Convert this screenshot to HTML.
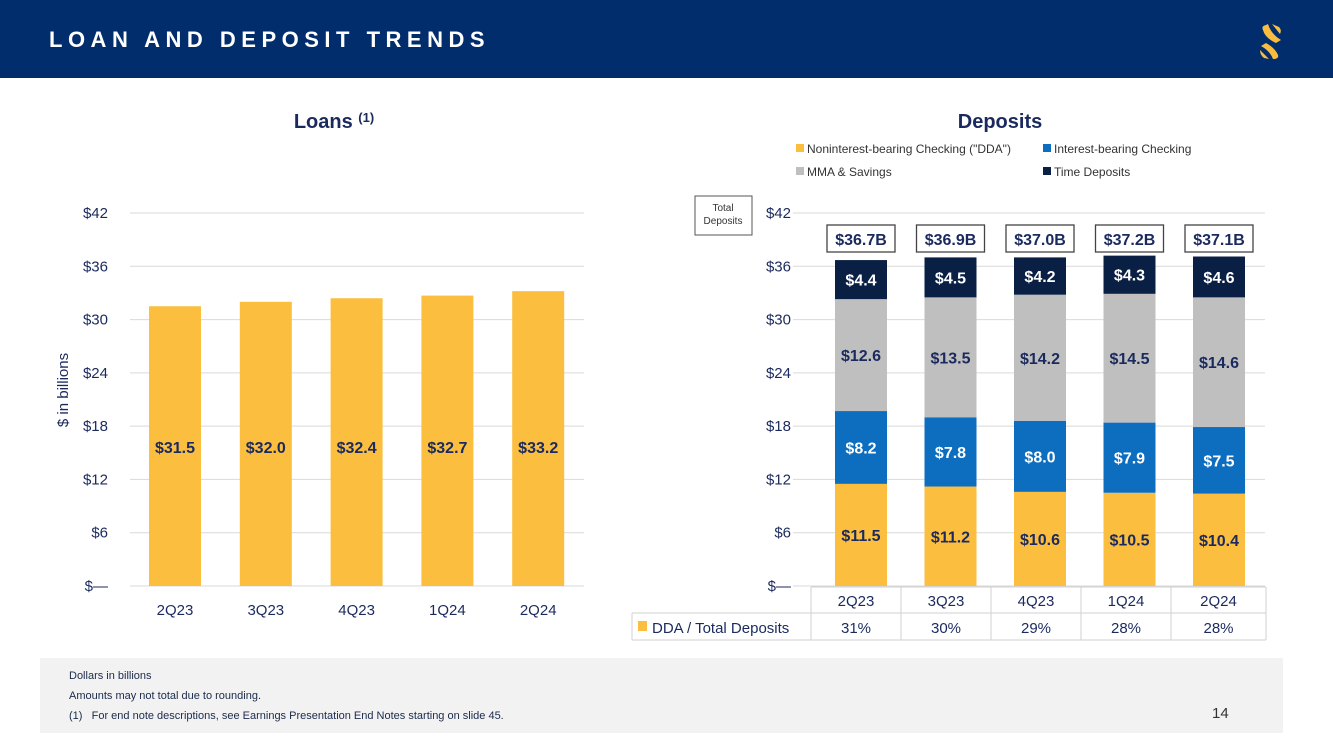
<!DOCTYPE html>
<html><head><meta charset="utf-8"><style>
body{margin:0;width:1333px;height:749px;background:#fff;font-family:"Liberation Sans",sans-serif;position:relative;overflow:hidden}
.hdr{position:absolute;left:0;top:0;width:1333px;height:78px;background:#022d6d}
.ttl{position:absolute;left:49px;top:27px;color:#fff;font-weight:bold;font-size:22px;letter-spacing:5.5px}
.foot{position:absolute;left:40px;top:658px;width:1243px;height:75px;background:#f2f2f2;font-size:11px;color:#1b2a4a}
.foot div{position:absolute;left:29px}
</style></head><body>
<div class="hdr">
<div class="ttl">LOAN AND DEPOSIT TRENDS</div>
<svg style="position:absolute;left:1255px;top:22px" width="34" height="40">
<path d="M8 8 Q6 4 11 3 L13 2 Q16 12 26 18 L21 21 Q10 16 8 8 Z" fill="#f9bc3e"/>
<path d="M17 2 L24 5 Q27 8 25 12 Z" fill="#f9bc3e"/>
<path d="M6 24 L11 21 Q20 26 23 33 Q24 36 20 37 L18 37 Q15 29 6 24 Z" fill="#f9bc3e"/>
<path d="M5 28 L14 37 L9 36 Q5 33 5 28 Z" fill="#f9bc3e"/></svg>
</div>
<svg id="c" width="1333" height="749" style="position:absolute;left:0;top:0"></svg>
<div class="foot">
<div style="top:12px">Dollars in billions</div>
<div style="top:32px">Amounts may not total due to rounding.</div>
<div style="top:52px">(1)&nbsp;&nbsp;&nbsp;For end note descriptions, see Earnings Presentation End Notes starting on slide 45.</div>
<div style="left:1172px;top:47px;font-size:15px;color:#333">14</div>
</div>
<script>
const categories=["2Q23","3Q23","4Q23","1Q24","2Q24"];
const loans=[31.5,32.0,32.4,32.7,33.2];
const dda=[11.5,11.2,10.6,10.5,10.4];
const ibc=[8.2,7.8,8.0,7.9,7.5];
const mma=[12.6,13.5,14.2,14.5,14.6];
const timeDep=[4.4,4.5,4.2,4.3,4.6];
const totals=["$36.7B","$36.9B","$37.0B","$37.2B","$37.1B"];
const ddaPct=["31%","30%","29%","28%","28%"];
const yTicks=[0,6,12,18,24,30,36,42];
const yLabels=["$—","$6","$12","$18","$24","$30","$36","$42"];
const NS="http://www.w3.org/2000/svg";const svg=document.getElementById('c');
function el(t,a,txt){const e=document.createElementNS(NS,t);for(const k in a)e.setAttribute(k,a[k]);if(txt!==undefined)e.textContent=txt;svg.appendChild(e);return e;}
const y=v=>586-v*(373/42);
const NAVY="#1b2a5e",YEL="#fbbe3e",BLUE="#0d6ebf",GRAY="#bfbfbf",DARK="#0a1f44";
function axis(x0,x1,lx,pre){yTicks.forEach((t,i)=>{const g=el('line',{x1:x0,x2:x1,y1:y(t),y2:y(t),stroke:'#d9d9d9','stroke-width':1});
const l=el('text',{x:lx,y:y(t)+5,'text-anchor':'end','font-size':15,fill:NAVY},yLabels[i]);});}
axis(130,584,108,'loans-');
let t=el('text',{x:334,y:128,'text-anchor':'middle','font-size':20,'font-weight':'bold',fill:NAVY},'Loans ');
const sup=document.createElementNS(NS,'tspan');sup.setAttribute('font-size',13);sup.setAttribute('dy',-6);sup.textContent='(1)';t.appendChild(sup);
t=el('text',{x:0,y:0,transform:'translate(68,390) rotate(-90)','text-anchor':'middle','font-size':15,fill:NAVY},'$ in billions');
const lx=i=>175+i*90.8;
categories.forEach((c,i)=>{const b=el('rect',{x:lx(i)-26,y:y(loans[i]),width:52,height:586-y(loans[i]),fill:YEL});
let v=el('text',{x:lx(i),y:453,'text-anchor':'middle','font-size':16,'font-weight':'bold',fill:NAVY},'$'+loans[i].toFixed(1));
let xl=el('text',{x:lx(i),y:615,'text-anchor':'middle','font-size':15,fill:NAVY},c);});
axis(793,1265,791,'deposits-');
t=el('text',{x:1000,y:128,'text-anchor':'middle','font-size':20,'font-weight':'bold',fill:NAVY},'Deposits');
[["Noninterest-bearing Checking (\"DDA\")",YEL,796,149],["Interest-bearing Checking",BLUE,1043,149],["MMA & Savings",GRAY,796,172],["Time Deposits",DARK,1043,172]].forEach(L=>{
const r=el('rect',{x:L[2],y:L[3]-5,width:8,height:8,fill:L[1]});
const tx=el('text',{x:L[2]+11,y:L[3]+4,'font-size':12,fill:'#333'},L[0]);});
let bx=el('rect',{x:695,y:196,width:57,height:39,fill:'#fff',stroke:'#555'});
t=el('text',{x:723,y:211,'text-anchor':'middle','font-size':10,fill:'#333'},'Total');
t=el('text',{x:723,y:224,'text-anchor':'middle','font-size':10,fill:'#333'},'Deposits');
const dx=i=>861+i*89.5;
const series=[[dda,YEL,NAVY,'dda'],[ibc,BLUE,'#fff','ibc'],[mma,GRAY,NAVY,'mma'],[timeDep,DARK,'#fff','time']];
categories.forEach((c,i)=>{let base=0;series.forEach(s=>{const v=s[0][i];const r=el('rect',{x:dx(i)-26,y:y(base+v),width:52,height:y(base)-y(base+v),fill:s[1]});
const tl=el('text',{x:dx(i),y:(y(base)+y(base+v))/2+6,'text-anchor':'middle','font-size':16,'font-weight':'bold',fill:s[2]},'$'+v.toFixed(1));base+=v;});
const tb=el('rect',{x:dx(i)-34,y:225,width:68,height:27,fill:'#fff',stroke:'#444','stroke-width':1.3});
const tt=el('text',{x:dx(i),y:245,'text-anchor':'middle','font-size':16,'font-weight':'bold',fill:NAVY},totals[i]);});
const cx=[811,901,991,1081,1171,1266];
[[811,587,1266,587],[632,613,1266,613],[632,640,1266,640],[632,613,632,640]].forEach(L=>{el('line',{x1:L[0],y1:L[1],x2:L[2],y2:L[3],stroke:'#d0d0d0'});});
cx.forEach(x=>el('line',{x1:x,y1:587,x2:x,y2:640,stroke:'#d0d0d0'}));
categories.forEach((c,i)=>{const m=(cx[i]+cx[i+1])/2;
let a=el('text',{x:m,y:606,'text-anchor':'middle','font-size':15,fill:NAVY},c);
a=el('text',{x:m,y:633,'text-anchor':'middle','font-size':15,fill:NAVY},ddaPct[i]);});
const sw=el('rect',{x:638,y:621,width:9,height:10,fill:YEL});
t=el('text',{x:652,y:633,'font-size':15,fill:NAVY},'DDA / Total Deposits');
</script>
</body></html>
